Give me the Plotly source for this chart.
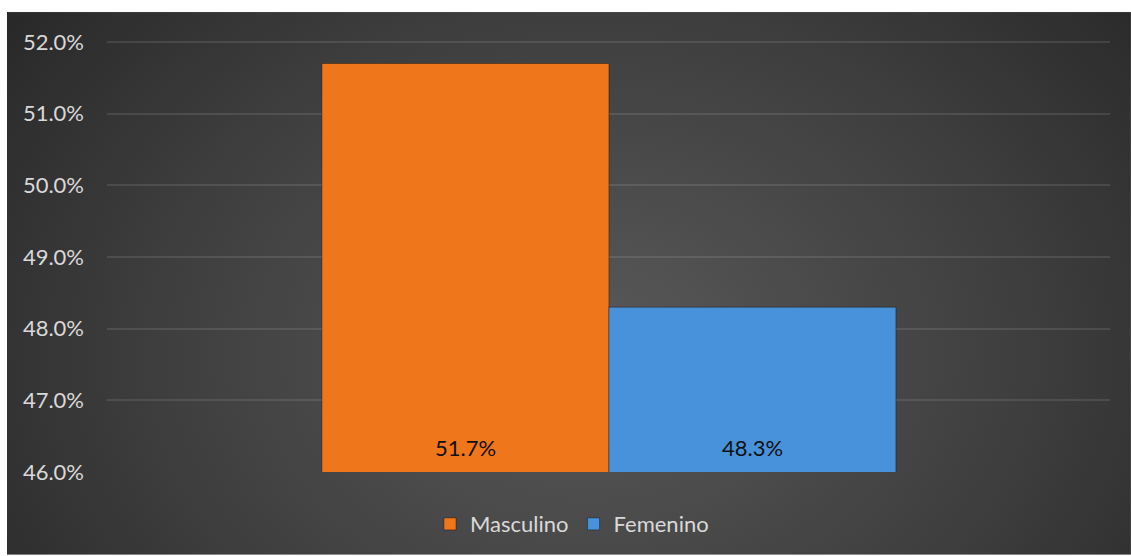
import base64
import plotly.graph_objects as go

# Share of respondents by sex
categories = ["Masculino", "Femenino"]
values = [51.7, 48.3]
colors = ["#f0761b", "#4792da"]
tick_vals = [46, 47, 48, 49, 50, 51, 52]
tick_text = ["46.0%", "47.0%", "48.0%", "49.0%", "50.0%", "51.0%", "52.0%"]

FONT = "Lato"
Y_MIN, Y_MAX = 46, 52.028

# Dark radial backdrop for the chart area
bg_svg = (
    "<svg xmlns='http://www.w3.org/2000/svg' width='1124' height='544' "
    "viewBox='0 0 1124 544' preserveAspectRatio='none'>"
    "<defs><radialGradient id='g' cx='52%' cy='62%' r='68%' "
    "gradientTransform='translate(0.52 0.62) scale(1 1.6) translate(-0.52 -0.62)'>"
    "<stop offset='0' stop-color='#595959'/>"
    "<stop offset='0.55' stop-color='#3f3f3f'/>"
    "<stop offset='1' stop-color='#262626'/>"
    "</radialGradient></defs>"
    "<rect width='1124' height='544' fill='url(#g)'/></svg>"
)
bg_uri = "data:image/svg+xml;base64," + base64.b64encode(bg_svg.encode()).decode()

fig = go.Figure()
for name, val, col in zip(categories, values, colors):
    fig.add_trace(go.Bar(
        x=[name], y=[val], name=name, width=1.0,
        marker=dict(color=col, line=dict(color="rgba(0,0,0,0.35)", width=1)),
        hoverinfo="skip",
    ))
    # value label sitting near the foot of each bar
    fig.add_annotation(
        x=name, y=Y_MIN, yshift=25, text=f"{val:.1f}%", showarrow=False,
        xanchor="center", yanchor="middle",
        font=dict(family=FONT, size=22, color="#111111"),
    )

# backdrop spans the whole chart area (paper units are relative to the plot box)
fig.add_layout_image(
    source=bg_uri, xref="paper", yref="paper",
    x=-0.0997, y=1.0647, sizex=1.1206, sizey=1.2564,
    xanchor="left", yanchor="top", sizing="stretch", layer="below",
)

fig.update_layout(
    width=1131, height=556,
    margin=dict(l=107, r=21, t=40, b=83),
    paper_bgcolor="white",
    plot_bgcolor="rgba(0,0,0,0)",
    barmode="overlay",
    font=dict(family=FONT, color="#d9d9d9"),
    showlegend=True,
    legend=dict(
        orientation="h", x=0.4636, xanchor="center", y=-0.118, yanchor="middle",
        font=dict(family=FONT, size=22, color="#d9d9d9"),
        bgcolor="rgba(0,0,0,0)", tracegroupgap=0,
    ),
    xaxis=dict(
        type="category", range=[-1.249, 2.246],
        showgrid=False, showticklabels=False, zeroline=False, showline=False,
    ),
    yaxis=dict(
        range=[Y_MIN, Y_MAX], tickvals=tick_vals, ticktext=tick_text,
        showgrid=True, gridcolor="rgba(255,255,255,0.1)", gridwidth=1.5,
        zeroline=False, showline=False,
        tickfont=dict(family=FONT, size=22, color="#d9d9d9"),
        ticks="", ticklabelstandoff=22,
    ),
)

fig.write_html("out.html")
